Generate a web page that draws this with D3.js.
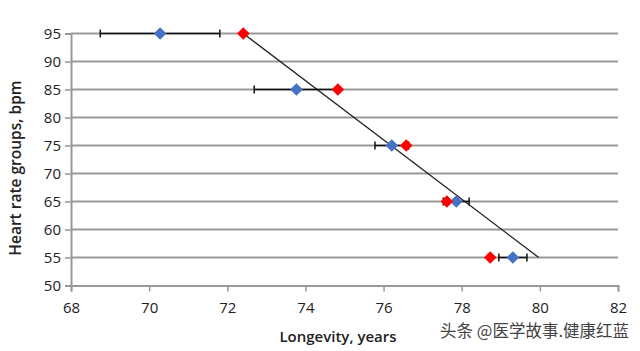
<!DOCTYPE html>
<html><head><meta charset="utf-8">
<script src="https://cdn.jsdelivr.net/npm/d3@7"></script>
<style>body{margin:0;background:#fff}svg{display:block}</style>
</head><body>
<svg id="c" width="640" height="351"></svg>
<script>
const heartRates = [95, 85, 75, 65, 55];
const longevityBlue = [70.28, 73.77, 76.21, 77.86, 79.31];
const errorBlue = [1.53, 1.08, 0.43, 0.33, 0.36];
const longevityRed = [72.41, 74.83, 76.58, 77.62, 78.73];
const trendX = [72.41, 79.97];
const trendY = [95, 55];
const xTicks = [68, 70, 72, 74, 76, 78, 80, 82];
const yTicks = [50, 55, 60, 65, 70, 75, 80, 85, 90, 95];

const svg = d3.select("#c");
const x = d3.scaleLinear().domain([68, 82]).range([71, 618]);
const y = d3.scaleLinear().domain([50, 95]).range([285.5, 33.5]);
const font = "'Open Sans', 'Liberation Sans', sans-serif";

// gridlines
svg.append("g").selectAll("line").data(yTicks.filter(d => d > 50)).join("line")
  .attr("x1", x(68)).attr("x2", x(82)).attr("y1", d => y(d)).attr("y2", d => y(d))
  .attr("stroke", "#999").attr("stroke-width", 2);

// y axis
const ya = svg.append("g").attr("transform", `translate(${x(68)},0)`)
  .call(d3.axisLeft(y).tickValues(yTicks).tickSize(6).tickPadding(4));
ya.select(".domain").attr("stroke", "#999").attr("stroke-width", 2);
ya.selectAll(".tick line").attr("stroke", "#999").attr("stroke-width", 1.5);
ya.selectAll("text").attr("font-family", font).attr("font-size", 15).attr("fill", "#222");

// x axis
const xa = svg.append("g").attr("transform", `translate(0,${y(50)})`)
  .call(d3.axisBottom(x).tickValues(xTicks).tickSize(6).tickPadding(11));
xa.select(".domain").attr("stroke", "#999").attr("stroke-width", 2);
xa.selectAll(".tick line").attr("stroke", "#999").attr("stroke-width", 1.5);
xa.selectAll("text").attr("font-family", font).attr("font-size", 15).attr("fill", "#222");

// trend line
svg.append("line")
  .attr("x1", x(trendX[0])).attr("y1", y(trendY[0]))
  .attr("x2", x(trendX[1])).attr("y2", y(trendY[1]))
  .attr("stroke", "#222").attr("stroke-width", 1.3);

// error bars (blue)
const eb = svg.append("g").selectAll("g").data(heartRates.map((h, i) => ({h, v: longevityBlue[i], e: errorBlue[i]}))).join("g");
eb.append("line").attr("x1", d => x(d.v - d.e)).attr("x2", d => x(d.v + d.e))
  .attr("y1", d => y(d.h)).attr("y2", d => y(d.h)).attr("stroke", "#111").attr("stroke-width", 1.5);
eb.append("line").attr("x1", d => x(d.v - d.e)).attr("x2", d => x(d.v - d.e))
  .attr("y1", d => y(d.h) - 4).attr("y2", d => y(d.h) + 4).attr("stroke", "#111").attr("stroke-width", 1.5);
eb.append("line").attr("x1", d => x(d.v + d.e)).attr("x2", d => x(d.v + d.e))
  .attr("y1", d => y(d.h) - 4).attr("y2", d => y(d.h) + 4).attr("stroke", "#111").attr("stroke-width", 1.5);

const diamond = "M0,-6.3L6.3,0L0,6.3L-6.3,0Z";
svg.append("g").selectAll("path").data(heartRates.map((h, i) => ({h, v: longevityBlue[i]}))).join("path")
  .attr("d", diamond).attr("transform", d => `translate(${x(d.v)},${y(d.h)})`).attr("fill", "#4472C4");
svg.append("g").selectAll("path").data(heartRates.map((h, i) => ({h, v: longevityRed[i]}))).join("path")
  .attr("d", diamond).attr("transform", d => `translate(${x(d.v)},${y(d.h)})`).attr("fill", "#FF0000");

// axis titles
svg.append("text").attr("x", 338).attr("y", 342).attr("text-anchor", "middle")
  .attr("font-family", font).attr("font-size", 15).attr("font-weight", 600).attr("fill", "#222")
  .text("Longevity, years");
svg.append("text").attr("transform", "translate(21,168) rotate(-90)").attr("text-anchor", "middle")
  .attr("font-family", font).attr("font-size", 15.5).attr("font-weight", 600).attr("fill", "#222")
  .text("Heart rate groups, bpm");

// watermark
svg.append("text").attr("x", 629).attr("y", 337).attr("text-anchor", "end")
  .attr("font-family", "'Noto Sans CJK SC', sans-serif").attr("font-size", 16.5).attr("fill", "#444")
  .attr("stroke", "#fff").attr("stroke-width", 0.5).attr("paint-order", "stroke")
  .text("头条 @医学故事.健康红蓝");
</script>
</body></html>
